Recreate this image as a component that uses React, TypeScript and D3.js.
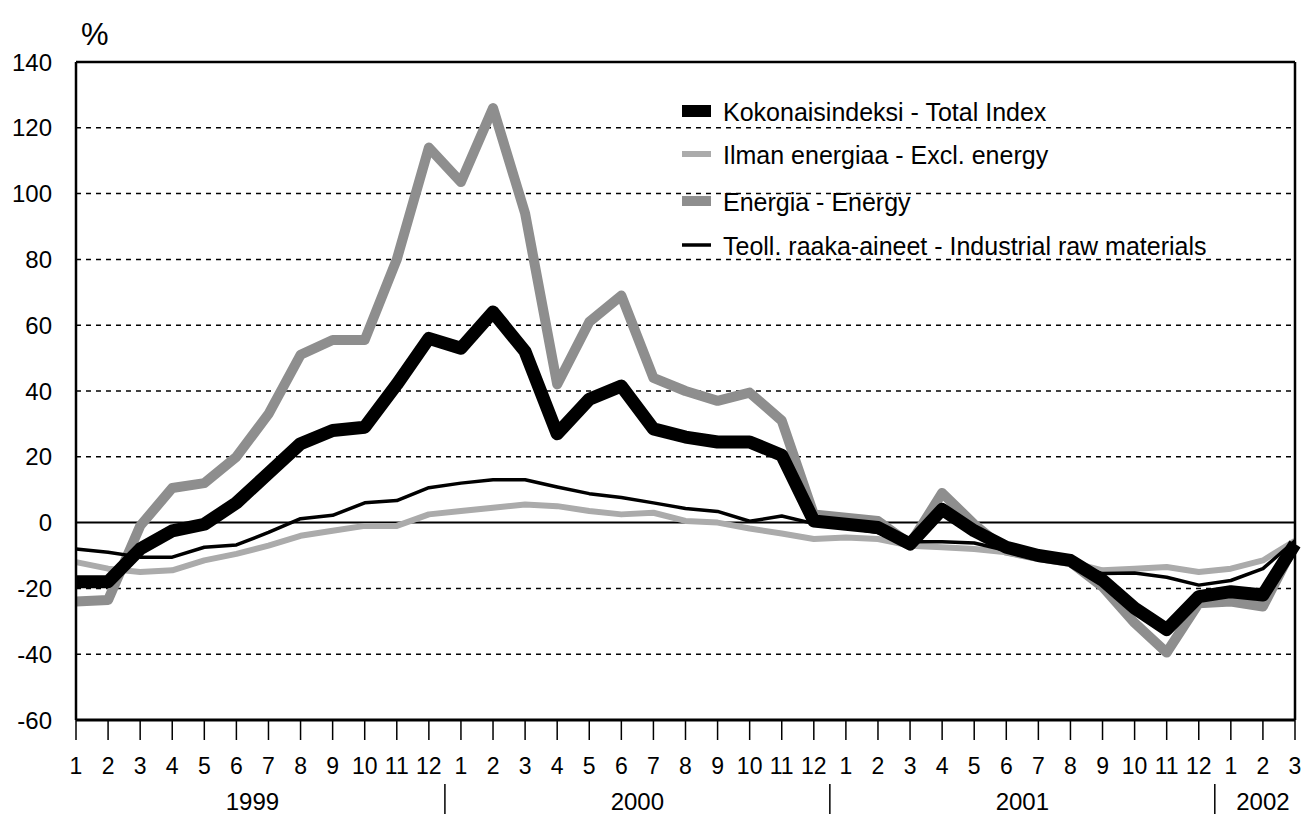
import React from "react"
import { scaleLinear, line, range } from "d3"

// monthly change, %, 1999/1 .. 2002/3
const months = [
  "1", "2", "3", "4", "5", "6", "7", "8", "9", "10", "11", "12",
  "1", "2", "3", "4", "5", "6", "7", "8", "9", "10", "11", "12",
  "1", "2", "3", "4", "5", "6", "7", "8", "9", "10", "11", "12",
  "1", "2", "3",
]
const years = ["1999", "2000", "2001", "2002"]
const yearCenters = [5.5, 17.5, 29.5, 37]
const yearBreaks = [11.5, 23.5, 35.5]

const totalIndex = [
  -18, -18, -8, -2.5, -0.5, 6, 15, 24, 28, 29, 42, 56,
  53, 64, 52, 27, 37.5, 41.5, 28.5, 26, 24.5, 24.5, 20.5, 0.5,
  -0.5, -1.5, -6.5, 4, -2.5, -7.5, -10, -11.5, -17.5, -26, -32.5, -22.5,
  -21, -22, -6.5,
]
const exclEnergy = [
  -12, -14, -15, -14.5, -11.5, -9.5, -7, -4, -2.5, -1, -1, 2.5,
  3.5, 4.5, 5.5, 5, 3.5, 2.5, 3, 0.5, 0, -1.8, -3.3, -5,
  -4.5, -5, -7, -7.5, -8, -9, -11, -12, -14.5, -14, -13.5, -15,
  -14, -11.5, -5.5,
]
const energy = [
  -24, -23.5, -1, 10.5, 12, 20, 33, 51, 55.5, 55.5, 80, 114,
  103.5, 126, 94, 42, 61, 69, 44, 40, 37, 39.5, 31, 2.5,
  1.5, 0.5, -6.5, 9, -0.5, -8.5, -10.5, -12, -19.5, -30.5, -39.5, -24.5,
  -24, -25.5, -6.5,
]
const rawMaterials = [
  -8, -9, -10.5, -10.5, -7.5, -6.8, -3, 1.2, 2.2, 6, 6.7, 10.6,
  12, 13, 13, 10.8, 8.8, 7.6, 6, 4.3, 3.4, 0.4, 2, -0.3,
  -1.5, -3, -5.8, -5.8, -6.2, -8.5, -10.6, -12.5, -15.5, -15.3, -16.6, -19,
  -17.6, -14, -5.5,
]
const yTicks = [140, 120, 100, 80, 60, 40, 20, 0, -20, -40, -60]

const series = [
  { name: "Energia - Energy", values: energy, color: "#8e8e8e", width: 10 },
  { name: "Ilman energiaa - Excl. energy", values: exclEnergy, color: "#ababab", width: 6 },
  { name: "Teoll. raaka-aineet - Industrial raw materials", values: rawMaterials, color: "#000", width: 3.5 },
  { name: "Kokonaisindeksi - Total Index", values: totalIndex, color: "#000", width: 13 },
]
const legendOrder = [3, 1, 0, 2]
const legendBaselines = [121, 164, 211, 255]

const font = "'Liberation Sans', Arial, sans-serif"

export default function App() {
  const left = 76
  const right = 1295
  const top = 62
  const bottom = 720

  const x = scaleLinear().domain([0, months.length - 1]).range([left, right])
  const y = scaleLinear().domain([-60, 140]).range([bottom, top])

  const path = line<number>()
    .x((d, i) => x(i))
    .y(d => y(d))

  return (
    <div style={{ position: "absolute", left: 0, top: 0 }}>
      <svg width={1304} height={814} style={{ display: "block", background: "#fff" }} fontFamily={font}>
        {/* grid */}
        {yTicks.filter(t => t !== 0 && t !== 140 && t !== -60).map(t => (
          <line key={t} x1={left} x2={right} y1={y(t)} y2={y(t)}
            stroke="#000" strokeWidth={1.5} strokeDasharray="5,5" />
        ))}
        <line x1={left} x2={right} y1={y(0)} y2={y(0)} stroke="#000" strokeWidth={2} />

        {/* y labels */}
        {yTicks.map(t => (
          <text key={t} x={52} y={y(t) + 8.5} textAnchor="end" fontSize={24}>{t}</text>
        ))}
        <text x={81} y={45} fontSize={31}>%</text>

        {/* series */}
        {series.map(s => (
          <path key={s.name} d={path(s.values) || ""} fill="none" stroke={s.color}
            strokeWidth={s.width} strokeLinejoin="round" />
        ))}

        {/* frame */}
        <line x1={left} x2={right} y1={top} y2={top} stroke="#000" strokeWidth={2.5} />
        <line x1={left} x2={left} y1={top} y2={bottom} stroke="#000" strokeWidth={2.5} />
        <line x1={right} x2={right} y1={top} y2={bottom} stroke="#000" strokeWidth={2.5} />
        <line x1={left} x2={right} y1={bottom} y2={bottom} stroke="#000" strokeWidth={3} />

        {/* x ticks */}
        {range(months.length).map(i => (
          <line key={"t" + i} x1={x(i)} x2={x(i)} y1={bottom} y2={740} stroke="#000" strokeWidth={1.5} />
        ))}
        {months.map((m, i) => (
          <text key={"m" + i} x={x(i)} y={774} textAnchor="middle" fontSize={23}>{m}</text>
        ))}
        {yearBreaks.map(b => (
          <line key={"b" + b} x1={x(b)} x2={x(b)} y1={784} y2={814} stroke="#000" strokeWidth={1.5} />
        ))}
        {years.map((yr, i) => (
          <text key={yr} x={x(yearCenters[i])} y={810} textAnchor="middle" fontSize={24}>{yr}</text>
        ))}

        {/* legend */}
        {legendOrder.map((si, r) => {
          const s = series[si]
          const by = legendBaselines[r]
          return (
            <g key={"l" + si}>
              <line x1={682} x2={711} y1={by - 10} y2={by - 10} stroke={s.color}
                strokeWidth={si === 3 ? 12 : s.width} />
              <text x={723} y={by} fontSize={25}>{s.name}</text>
            </g>
          )
        })}
      </svg>
    </div>
  )
}
